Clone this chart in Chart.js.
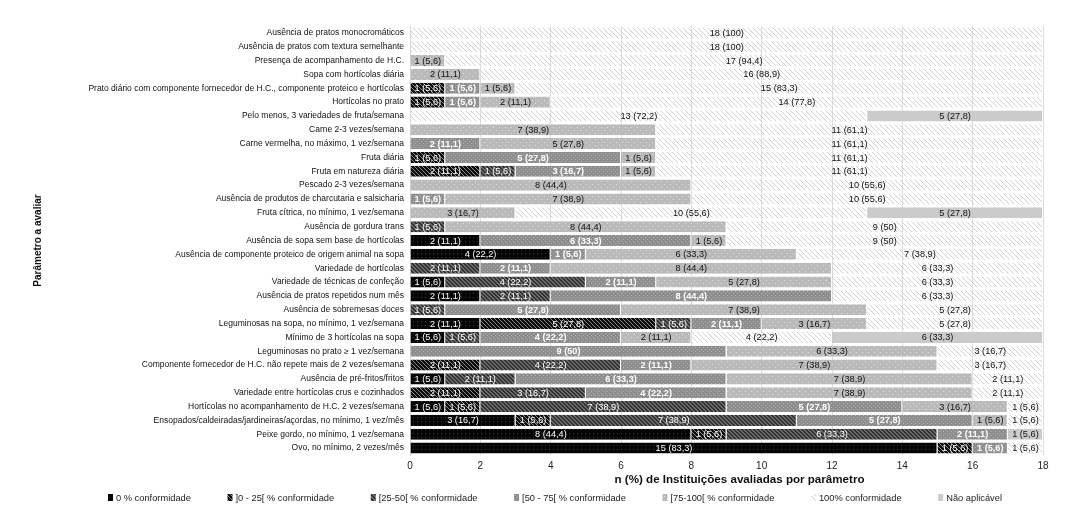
<!DOCTYPE html>
<html><head><meta charset="utf-8">
<script src="https://cdn.jsdelivr.net/npm/chart.js@4.4.1/dist/chart.umd.min.js"></script>
<style>html,body{margin:0;padding:0;background:#fff;}</style>
</head><body>
<canvas id="c" width="1082" height="511"></canvas>
<script>
const categories = [
  "Ausência de pratos monocromáticos",
  "Ausência de pratos com textura semelhante",
  "Presença de acompanhamento de H.C.",
  "Sopa com hortícolas diária",
  "Prato diário com componente fornecedor de H.C., componente proteico e hortícolas",
  "Hortícolas no prato",
  "Pelo menos, 3 variedades de fruta/semana",
  "Carne 2-3 vezes/semana",
  "Carne vermelha, no máximo, 1 vez/semana",
  "Fruta diária",
  "Fruta em natureza diária",
  "Pescado 2-3 vezes/semana",
  "Ausência de produtos de charcutaria e salsicharia",
  "Fruta cítrica, no mínimo, 1 vez/semana",
  "Ausência de gordura trans",
  "Ausência de sopa sem base de hortícolas",
  "Ausência de componente proteico de origem animal na sopa",
  "Variedade de hortícolas",
  "Variedade de técnicas de confeção",
  "Ausência de pratos repetidos num mês",
  "Ausência de sobremesas doces",
  "Leguminosas na sopa, no mínimo, 1 vez/semana",
  "Mínimo de 3 hortícolas na sopa",
  "Leguminosas no prato ≥ 1 vez/semana",
  "Componente fornecedor de H.C. não repete mais de 2 vezes/semana",
  "Ausência de pré-fritos/fritos",
  "Variedade entre hortícolas crus e cozinhados",
  "Hortícolas no acompanhamento de H.C. 2 vezes/semana",
  "Ensopados/caldeiradas/jardineiras/açordas, no mínimo, 1 vez/mês",
  "Peixe gordo, no mínimo, 1 vez/semana",
  "Ovo, no mínimo, 2 vezes/mês"
];
const conf0    = [0,0,0,0,0,0,0,0,0,0,0,0,0,0,0,2,4,0,1,2,0,2,1,0,0,1,0,1,3,8,15];
const conf0_25 = [0,0,0,0,1,1,0,0,0,1,2,0,0,0,0,0,0,0,0,0,0,5,0,0,2,0,2,1,1,1,1];
const conf25_50= [0,0,0,0,0,0,0,0,0,0,1,0,0,0,1,0,0,2,4,2,1,1,1,0,4,2,3,7,7,6,0];
const conf50_75= [0,0,0,0,1,1,0,0,2,5,3,0,1,0,0,6,1,2,2,8,5,2,4,9,2,6,4,5,5,2,1];
const conf75_100=[0,0,1,2,1,2,0,7,5,1,1,8,7,3,8,1,6,8,5,0,7,3,2,6,7,7,7,3,1,0,0];
const conf100  = [18,18,17,16,15,14,13,11,11,11,11,10,10,10,9,9,7,6,6,6,5,5,4,3,3,2,2,1,1,0,1];
const naoAplic = [0,0,0,0,0,0,5,0,0,0,0,0,0,5,0,0,0,0,0,0,0,0,6,0,0,0,0,0,0,1,0];
const seriesNames = ["0 % conformidade","]0 - 25[ % conformidade","[25-50[ % conformidade","[50 - 75[ % conformidade","[75-100[ % conformidade","100% conformidade","Não aplicável"];
const totalInst = 18;
const xMin = 0, xMax = 18, xStep = 2;
const xTitle = 'n (%) de Instituições avaliadas por parâmetro';
const yTitle = 'Parâmetro a avaliar';

const FAM = '"Liberation Sans", Arial, sans-serif';
const canvas = document.getElementById('c');
const mainCtx = canvas.getContext('2d');

function makePattern(size, bg, draw) {
  const c = document.createElement('canvas'); c.width = size; c.height = size;
  const g = c.getContext('2d');
  if (bg) { g.fillStyle = bg; g.fillRect(0, 0, size, size); }
  draw(g, size);
  return mainCtx.createPattern(c, 'repeat');
}
function diag(color, w) { return (g, s) => { g.fillStyle = color; for (let i = 0; i < s; i++) { for (let k = 0; k < w; k++) g.fillRect((i + k) % s, i, 1, 1); } }; }
function dots(color, pts) { return (g) => { g.fillStyle = color; pts.forEach(p => g.fillRect(p[0], p[1], 1, 1)); }; }

const fills = [
  makePattern(4, '#050505', dots('#3a3a3a', [[1,1]])),
  makePattern(4, '#0c0c0c', diag('#8c8c8c', 1)),
  makePattern(4, '#6b6b6b', diag('#303030', 2)),
  makePattern(4, '#8e8e8e', dots('#b2b2b2', [[1,1],[3,3]])),
  makePattern(6, '#bababa', dots('#dedede', [[1,1],[4,4]])),
  makePattern(5, null, diag('#d0d0d0', 1)),
  '#cbcbcb'
];
const labelColors = ['#fff','#fff','#fff','#fff','#111','#111','#111'];
const labelBold = [false,false,false,true,false,false,false];
const seriesData = [conf0, conf0_25, conf25_50, conf50_75, conf75_100, conf100, naoAplic];

const datasets = seriesData.map((d, i) => ({
  label: seriesNames[i], data: d, backgroundColor: fills[i],
  borderColor: 'rgba(255,255,255,0.8)', borderWidth: {top:0, bottom:0, left:0, right:1}, borderSkipped: false,
  categoryPercentage: 0.8, barPercentage: 1,
  labelColor: labelColors[i], labelBold: labelBold[i]
}));

function fmt(v) {
  const p = Math.round(v / totalInst * 1000) / 10;
  const ps = Number.isInteger(p) ? String(p) : p.toFixed(1).replace('.', ',');
  return v + ' (' + ps + ')';
}

const segLabels = {
  id: 'segLabels',
  afterDatasetsDraw(chart) {
    const ctx = chart.ctx;
    chart.data.datasets.forEach((ds, di) => {
      const meta = chart.getDatasetMeta(di);
      meta.data.forEach((el, i) => {
        const v = ds.data[i];
        if (!v) return;
        const p = el.getProps(['x', 'y', 'base'], true);
        ctx.save();
        ctx.font = (ds.labelBold ? 'bold ' : '') + '9.2px ' + FAM;
        ctx.fillStyle = ds.labelColor;
        ctx.textAlign = 'center'; ctx.textBaseline = 'middle';
        ctx.fillText(fmt(v), (p.x + p.base) / 2, p.y + 0.5);
        ctx.restore();
      });
    });
  }
};

const extras = {
  id: 'extras',
  afterDraw(chart) {
    const ctx = chart.ctx;
    const ca = chart.chartArea;
    ctx.save();
    // x axis title
    ctx.font = 'bold 11.6px ' + FAM;
    ctx.fillStyle = '#111';
    ctx.textAlign = 'center'; ctx.textBaseline = 'middle';
    ctx.fillText(xTitle, (ca.left + ca.right) / 2 + 13, ca.bottom + 25);
    // legend
    ctx.font = '9.3px ' + FAM;
    const box = 5, gapText = 3;
    const startX = 108, endX = 1002, y = ca.bottom + 43;
    const widths = seriesNames.map(n => box + gapText + ctx.measureText(n).width);
    const sum = widths.reduce((a, b) => a + b, 0);
    const gapItem = (endX - startX - sum) / (seriesNames.length - 1);
    let x = startX;
    seriesNames.forEach((n, i) => {
      ctx.fillStyle = fills[i];
      ctx.fillRect(x, y - 4, box, 7);
      ctx.fillStyle = '#222';
      ctx.textAlign = 'left'; ctx.textBaseline = 'middle';
      ctx.fillText(n, x + box + gapText, y);
      x += widths[i] + gapItem;
    });
    ctx.restore();
  }
};

new Chart(mainCtx, {
  type: 'bar',
  data: { labels: categories, datasets },
  options: {
    indexAxis: 'y', responsive: false, animation: false, devicePixelRatio: 1,
    layout: { padding: { left: 0, right: 39, top: 26, bottom: 20 } },
    plugins: { legend: { display: false }, tooltip: { enabled: false } },
    scales: {
      x: {
        stacked: true, min: xMin, max: xMax,
        ticks: { stepSize: xStep, font: { size: 10, family: FAM }, color: '#222', padding: 5 },
        grid: { color: '#dcdcdc', drawTicks: false },
        border: { display: false },
        title: { display: false },
        afterFit(s) { s.height = 36; }
      },
      y: {
        stacked: true,
        ticks: { font: { size: 8.5, family: FAM }, color: '#111', padding: 6, autoSkip: false },
        grid: { display: false, drawTicks: false },
        border: { display: true, color: '#d9d9d9' },
        title: { display: true, text: yTitle, font: { size: 10, weight: 'bold', family: FAM }, color: '#111', padding: { top: 32, bottom: 0 } },
        afterFit(s) { s.width = 410; }
      }
    }
  },
  plugins: [segLabels, extras]
});
</script>
</body></html>
